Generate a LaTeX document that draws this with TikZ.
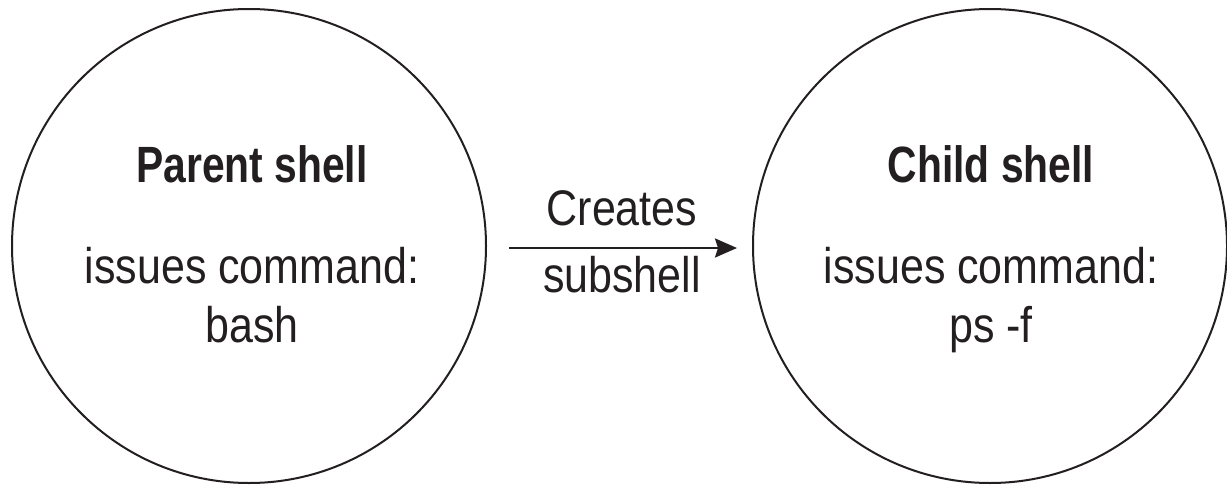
\documentclass[tikz,border=0pt]{standalone}
\usepackage{fontspec}
\setmainfont{Liberation Sans}[FakeStretch=0.86,BoldFeatures={FakeStretch=0.8}]
\usetikzlibrary{arrows.meta}
\definecolor{ink}{HTML}{231F20}
\tikzset{
  shellcircle/.style={circle, draw=ink, line width=2pt, minimum size=474pt, inner sep=0pt},
  titletext/.style={anchor=base, text=ink, inner sep=0pt, font=\fontsize{51}{60}\selectfont\bfseries},
  bodytext/.style={anchor=base, text=ink, inner sep=0pt, font=\fontsize{50}{60}\selectfont},
  flow/.style={draw=ink, line width=2.6pt, -{Stealth[length=22pt,width=19pt,inset=3pt]}}
}
\begin{document}
\begin{tikzpicture}[x=1pt, y=-1pt]
  \useasboundingbox (0,0) rectangle (1227,487);

  % the two shells
  \node[shellcircle] (parent) at (249,246) {};
  \node[shellcircle] (child)  at (990,246) {};

  % parent shell text
  \node[titletext] (ptitle) at (252,182) {Parent shell};
  \node[bodytext]  (pcmd)   at (252,283) {issues command:};
  \node[bodytext]  (pbash)  at (252,342) {bash};

  % child shell text
  \node[titletext] (ctitle) at (991,182) {Child shell};
  \node[bodytext]  (ccmd)   at (991,283) {issues command:};
  \node[bodytext]  (cps)    at (991,342) {ps -f};

  % creation arrow with its label
  \draw[flow] ([xshift=22pt,yshift=-2pt]parent.east) -- ([xshift=-15pt,yshift=-2pt]child.west);
  \node[bodytext] (lblA) at (622,225) {Creates};
  \node[bodytext] (lblB) at (622,292) {subshell};
\end{tikzpicture}
\end{document}
